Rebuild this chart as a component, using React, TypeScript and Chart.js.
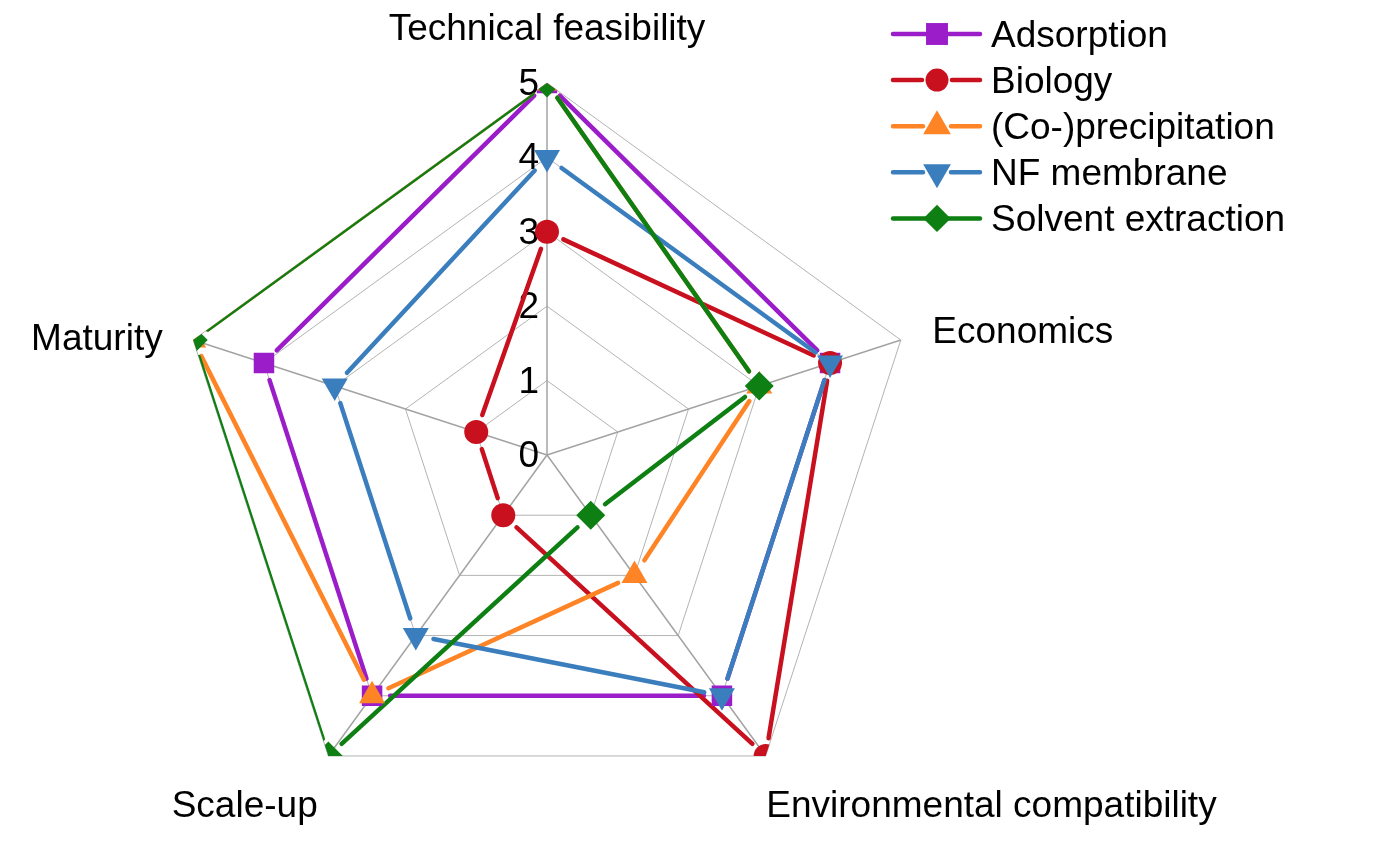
import React, { useEffect, useRef } from 'react';
import { Chart, registerables } from 'chart.js';

Chart.register(...registerables);

// ---------- data ----------
const categories = ['Technical feasibility', 'Economics', 'Environmental compatibility', 'Scale-up', 'Maturity'];
const seriesNames = ['Adsorption', 'Biology', '(Co-)precipitation', 'NF membrane', 'Solvent extraction'];
const adsorption = [5, 4, 4, 4, 4];
const biology = [3, 4, 5, 1, 1];
const coPrecipitation = [5, 3, 2, 4, 5];
const nfMembrane = [4, 4, 4, 3, 3];
const solventExtraction = [5, 3, 1, 5, 5];
const tickValues = [0, 1, 2, 3, 4, 5];
const tickLabels = ['0', '1', '2', '3', '4', '5'];

const seriesValues = [adsorption, biology, coPrecipitation, nfMembrane, solventExtraction];

// ---------- styles ----------
const seriesColors = ['#9B1DC9', '#C8101E', '#FF8426', '#3B7EBE', '#0E7F12'];
const seriesMarkers = [
  { style: 'rect', rotation: 0, radius: 14.5, legendRadius: 15.5, legendGap: 0 },
  { style: 'circle', rotation: 0, radius: 12, legendRadius: 11.5, legendGap: 15 },
  { style: 'triangle', rotation: 0, radius: 15, legendRadius: 16, legendGap: 14 },
  { style: 'triangle', rotation: 180, radius: 15, legendRadius: 16, legendGap: 14 },
  { style: 'rectRot', rotation: 0, radius: 14.5, legendRadius: 13.7, legendGap: 0 },
];
const FONT = "'Liberation Sans', Arial, Helvetica, sans-serif";
const FONT_SIZE = 37;
const LINE_WIDTH = 4.5;
const LINE_GAP = 18;

const labelLayout = [
  { align: 'center', dx: 0, dy: -13 },
  { align: 'left', dx: 3, dy: 12 },
  { align: 'left', dx: -17, dy: 37 },
  { align: 'right', dx: 7, dy: 37 },
  { align: 'right', dx: -2, dy: 19 },
];

function drawMarker(ctx: CanvasRenderingContext2D, style: string, x: number, y: number, r: number, rotationDeg: number) {
  const rad = (rotationDeg * Math.PI) / 180;
  ctx.beginPath();
  if (style === 'circle') {
    ctx.arc(x, y, r, 0, Math.PI * 2);
  } else if (style === 'rect') {
    const s = r * Math.SQRT1_2;
    ctx.rect(x - s, y - s, 2 * s, 2 * s);
  } else if (style === 'triangle') {
    let a = rad;
    ctx.moveTo(x + Math.sin(a) * r, y - Math.cos(a) * r);
    a += (2 * Math.PI) / 3;
    ctx.lineTo(x + Math.sin(a) * r, y - Math.cos(a) * r);
    a += (2 * Math.PI) / 3;
    ctx.lineTo(x + Math.sin(a) * r, y - Math.cos(a) * r);
    ctx.closePath();
  } else if (style === 'rectRot') {
    ctx.moveTo(x, y - r);
    ctx.lineTo(x + r, y);
    ctx.lineTo(x, y + r);
    ctx.lineTo(x - r, y);
    ctx.closePath();
  }
  ctx.fill();
}

const radarDecor = {
  id: 'radarDecor',
  beforeDatasetsDraw(chart: any) {
    const ctx: CanvasRenderingContext2D = chart.ctx;
    const scale: any = chart.scales.r;
    ctx.save();
    ctx.font = `${FONT_SIZE}px ${FONT}`;
    ctx.fillStyle = '#000';
    ctx.textBaseline = 'alphabetic';
    ctx.textAlign = 'right';
    tickValues.forEach((v, k) => {
      const d = scale.getDistanceFromCenterForValue(v);
      ctx.fillText(tickLabels[k], scale.xCenter - 8, scale.yCenter - d + 12);
    });
    categories.forEach((c, i) => {
      const p = scale.getPointPosition(i, scale.drawingArea + 30);
      const lay = labelLayout[i];
      ctx.textAlign = lay.align as CanvasTextAlign;
      ctx.fillText(c, p.x + lay.dx, p.y + lay.dy);
    });
    ctx.restore();

    // clip to outer polygon
    ctx.save();
    ctx.beginPath();
    const outer = scale.getDistanceFromCenterForValue(scale.max);
    for (let i = 0; i < categories.length; i++) {
      const p = scale.getPointPosition(i, outer);
      if (i === 0) ctx.moveTo(p.x, p.y);
      else ctx.lineTo(p.x, p.y);
    }
    ctx.closePath();
    ctx.clip();

    // series lines with gaps near markers
    ctx.lineWidth = LINE_WIDTH;
    ctx.lineCap = 'round';
    for (let d = 0; d < seriesNames.length; d++) {
      const meta = chart.getDatasetMeta(d);
      const pts = meta.data;
      ctx.strokeStyle = seriesColors[d];
      for (let i = 0; i < pts.length; i++) {
        const a = pts[i];
        const b = pts[(i + 1) % pts.length];
        const dx = b.x - a.x;
        const dy = b.y - a.y;
        const len = Math.hypot(dx, dy);
        if (len <= 2 * LINE_GAP) continue;
        const ux = dx / len;
        const uy = dy / len;
        ctx.beginPath();
        ctx.moveTo(a.x + ux * LINE_GAP, a.y + uy * LINE_GAP);
        ctx.lineTo(b.x - ux * LINE_GAP, b.y - uy * LINE_GAP);
        ctx.stroke();
      }
    }
  },
  afterDatasetsDraw(chart: any) {
    chart.ctx.restore();
  },
  afterDraw(chart: any) {
    const ctx: CanvasRenderingContext2D = chart.ctx;
    ctx.save();
    const x0 = 893;
    const x1 = 980;
    const mx = 937;
    const tx = 991;
    const y0 = 34;
    const step = 46.1;
    ctx.font = `${FONT_SIZE}px ${FONT}`;
    ctx.textAlign = 'left';
    ctx.textBaseline = 'alphabetic';
    ctx.lineWidth = LINE_WIDTH;
    ctx.lineCap = 'round';
    seriesNames.forEach((name, k) => {
      const y = y0 + k * step;
      const m = seriesMarkers[k];
      ctx.strokeStyle = seriesColors[k];
      ctx.fillStyle = seriesColors[k];
      ctx.beginPath();
      if (m.legendGap > 0) {
        ctx.moveTo(x0, y);
        ctx.lineTo(mx - m.legendGap, y);
        ctx.moveTo(mx + m.legendGap, y);
        ctx.lineTo(x1, y);
      } else {
        ctx.moveTo(x0, y);
        ctx.lineTo(x1, y);
      }
      ctx.stroke();
      drawMarker(ctx, m.style, mx, y, m.legendRadius, m.rotation);
      ctx.fillStyle = '#000';
      ctx.fillText(name, tx, y + 13);
    });
    ctx.restore();
  },
};

export default function App() {
  const canvasRef = useRef<HTMLCanvasElement | null>(null);

  useEffect(() => {
    if (!canvasRef.current) return;
    const chart = new Chart(canvasRef.current, {
      type: 'radar',
      data: {
        labels: categories,
        datasets: seriesNames.map((name, k) => ({
          label: name,
          data: seriesValues[k],
          order: seriesNames.length - k,
          showLine: false,
          fill: false,
          borderWidth: 0,
          borderColor: 'rgba(0,0,0,0)',
          backgroundColor: 'rgba(0,0,0,0)',
          pointStyle: seriesMarkers[k].style as any,
          pointRotation: seriesMarkers[k].rotation,
          pointRadius: seriesMarkers[k].radius,
          pointHoverRadius: seriesMarkers[k].radius,
          pointBackgroundColor: seriesColors[k],
          pointBorderColor: seriesColors[k],
          pointBorderWidth: 0,
          clip: false as any,
        })),
      },
      options: {
        responsive: false,
        animation: false,
        events: [],
        layout: { padding: { left: 175, top: 83, right: 465, bottom: 15 } },
        plugins: {
          legend: { display: false },
          tooltip: { enabled: false },
        },
        scales: {
          r: {
            min: 0,
            max: 5,
            beginAtZero: true,
            ticks: { stepSize: 1, display: false },
            pointLabels: { display: false },
            grid: { color: '#b3b3b3', lineWidth: 1 },
            angleLines: { color: '#a3a3a3', lineWidth: 1.5 },
          },
        },
      },
      plugins: [radarDecor],
    } as any);
    return () => chart.destroy();
  }, []);

  return (
    <div style={{ position: 'absolute', left: 0, top: 0, width: 1384, height: 842, background: '#fff' }}>
      <canvas ref={canvasRef} width={1384} height={842} style={{ display: 'block' }} />
    </div>
  );
}
